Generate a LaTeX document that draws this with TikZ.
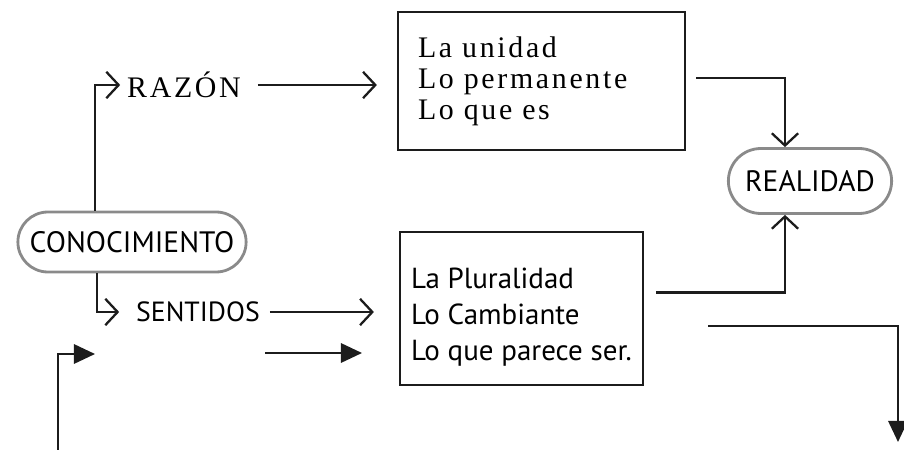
\documentclass[tikz,border=0pt]{standalone}
\usepackage{fontspec}
\usepackage{tikz}
\usetikzlibrary{arrows.meta,shapes,calc}
\usepackage{xcolor}
\definecolor{blobgray}{HTML}{8a8a8a}
\definecolor{inkblack}{HTML}{1c1c1c}
\newfontfamily\printfont[LetterSpace=9]{Liberation Serif}
\newfontfamily\handfont{PT Sans}

\tikzset{
  blob/.style={rounded rectangle, draw=blobgray, line width=1.6pt,
    font=\handfont\fontsize{16.8}{19}\selectfont},
  listbox/.style={draw=inkblack, line width=1.3pt, align=left, anchor=center},
  openarr/.style={-{Straight Barb[length=7pt,width=15pt]}},
  solidarr/.style={-{Triangle[length=12pt,width=11pt]}}
}

\begin{document}
\begin{tikzpicture}[x=0.02cm,y=-0.02cm,line width=1.3pt,draw=inkblack]

\useasboundingbox (0,0) rectangle (904,450);

\node[blob, minimum width=4.8cm, minimum height=1.2cm] (conocimiento) at (132,242) {CONOCIMIENTO};

\node[blob, minimum width=3.5cm, minimum height=1.3cm] (realidad) at (810,181) {REALIDAD};

\node[font=\printfont\fontsize{17}{20}\selectfont] (razon) at (184,85) {RAZÓN};

\node[font=\handfont\fontsize{15.8}{18}\selectfont] (sentidos) at (198,312) {SENTIDOS};

\node[listbox, font=\printfont\fontsize{17}{17.6}\selectfont, text width=4.94cm,
  inner xsep=0.4cm, minimum height=2.76cm] (unidad) at (541.5,81)
{La unidad\\Lo permanente\\Lo que es};

\node[listbox, font=\handfont\fontsize{16.5}{20.5}\selectfont,
  minimum width=4.86cm, minimum height=3.06cm] (plural) at (521.5,308.5)
{\rule{0pt}{0.75cm}La Pluralidad\\Lo Cambiante\\Lo que parece ser.};

\draw[openarr] ([xshift=-0.74cm]conocimiento.north) |- (razon.west);

\draw[openarr, shorten >=0.2cm] ([xshift=-0.7cm]conocimiento.south) |- (sentidos.west);

\draw[openarr, shorten <=0.2cm, shorten >=0.4cm] (razon.east) -- (razon.east -| unidad.west);

\draw[openarr, shorten <=0.06cm, shorten >=0.5cm] (sentidos.east) -- (sentidos.east -| plural.west);

\draw[openarr, shorten <=0.2cm] ([yshift=0.06cm]unidad.east) -| ([xshift=-0.5cm]realidad.north);

\draw[openarr, shorten <=0.24cm] ([yshift=0.32cm]plural.east) -| ([xshift=-0.5cm]realidad.south);

\coordinate (loopstart) at (58,452);
\coordinate (loopend) at (95,354);
\draw[solidarr] (loopstart) |- (loopend);

\coordinate (midstart) at (265,353);
\coordinate (midend) at (362,353);
\draw[solidarr] (midstart) -- (midend);

\coordinate (exitstart) at (708,326);
\coordinate (exitend) at (898,442);
\draw[solidarr] (exitstart) -| (exitend);

\end{tikzpicture}
\end{document}
